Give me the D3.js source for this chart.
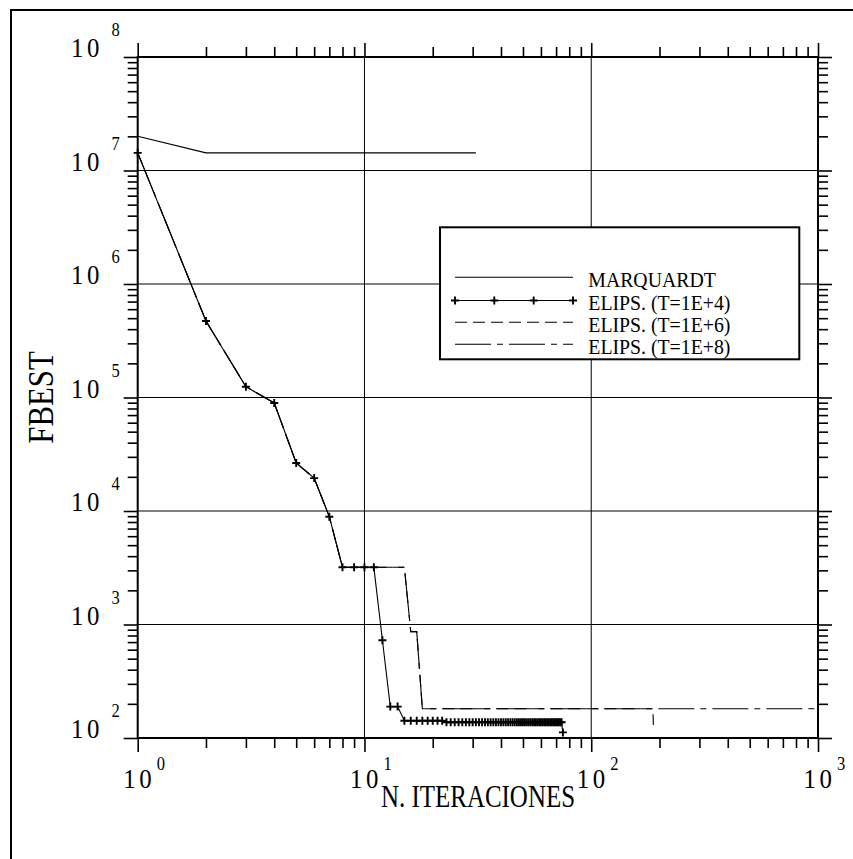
<!DOCTYPE html>
<html>
<head>
<meta charset="utf-8">
<script src="https://cdn.jsdelivr.net/npm/d3@7"></script>
<style>
  html, body { margin: 0; padding: 0; background: #fff; }
  svg { display: block; }
</style>
</head>
<body>
<script>
// Best objective value (FBEST) against iteration count for each method.
const marquardtIter  = [1, 2, 31];
const marquardtFbest = [2.0e7, 1.43e7, 1.43e7];

const elips4Iter = [
  1, 2, 3, 4, 5, 6, 7, 8, 9, 10, 11, 12, 13, 14, 15,
  16, 17, 18, 19, 20, 21, 22, 23, 24, 25, 26, 27, 28, 29, 30,
  31, 32, 33, 34, 35, 36, 37, 38, 39, 40, 41, 42, 43, 44, 45,
  46, 47, 48, 49, 50, 51, 52, 53, 54, 55, 56, 57, 58, 59, 60,
  61, 62, 63, 64, 65, 66, 67, 68, 69, 70, 71, 72, 73, 74, 75
];
const elips4Fbest = [
  1.43e7, 4.72e5, 1.245e5, 8.95e4, 2.65e4, 1.95e4, 8.9e3, 3190, 3190, 3190, 3190, 726, 189, 189, 142,
  142, 142, 142, 142, 142, 142, 142, 137.5, 137.5, 137.5, 137.5, 137.5, 137.5, 137.5, 137.5,
  137.5, 137.5, 137.5, 137.5, 137.5, 137.5, 137.5, 137.5, 137.5, 137.5, 137.5, 137.5, 137.5, 137.5, 137.5,
  137.5, 137.5, 137.5, 137.5, 137.5, 137.5, 137.5, 137.5, 137.5, 137.5, 137.5, 137.5, 137.5, 137.5, 137.5,
  137.5, 137.5, 137.5, 137.5, 137.5, 137.5, 137.5, 137.5, 137.5, 137.5, 137.5, 137.5, 137.5, 137.5, 112
];

const elips6Iter  = [1, 2, 3, 4, 5, 6, 7, 8, 11, 15, 16, 17, 18, 187, 188];
const elips6Fbest = [1.43e7, 4.72e5, 1.245e5, 8.95e4, 2.65e4, 1.95e4, 8.9e3, 3190, 3190, 3190, 865, 865, 181, 181, 130];

const elips8Iter  = [1, 2, 3, 4, 5, 6, 7, 8, 11, 15, 16, 17, 18, 1000];
const elips8Fbest = [1.43e7, 4.72e5, 1.245e5, 8.95e4, 2.65e4, 1.95e4, 8.9e3, 3190, 3190, 3190, 865, 865, 181, 181];

const xDecades = [1, 10, 100, 1000];
const xExponents = ["0", "1", "2", "3"];
const yDecades = [1e2, 1e3, 1e4, 1e5, 1e6, 1e7, 1e8];
const yExponents = ["2", "3", "4", "5", "6", "7", "8"];

const legendLabels = ["MARQUARDT", "ELIPS. (T=1E+4)", "ELIPS. (T=1E+6)", "ELIPS. (T=1E+8)"];
const xTitle = "N. ITERACIONES";
const yTitle = "FBEST";

// ---- layout ----
const W = 853, H = 859;
const L = 137.7, R = 818, T = 57, B = 738;
const FONT = "'Liberation Serif', 'Times New Roman', serif";

const svg = d3.select("body").append("svg").attr("width", W).attr("height", H);

// outer frame
svg.append("rect").attr("x", 11).attr("y", 10).attr("width", 900).attr("height", 900)
  .attr("fill", "none").attr("stroke", "#000").attr("stroke-width", 2);

const x = d3.scaleLog().domain([1, 1000]).range([L, R]);
const y = d3.scaleLog().domain([1e2, 1e8]).range([B, T]);

const isDecade = v => Math.abs(Math.log10(v) - Math.round(Math.log10(v))) < 1e-9;
const xMinor = x.ticks().filter(v => !isDecade(v));
const yMinor = y.ticks().filter(v => !isDecade(v));

// grid lines at inner decades
const grid = svg.append("g").attr("stroke", "#000").attr("stroke-width", 1);
xDecades.slice(1, -1).forEach(v => {
  grid.append("line").attr("x1", x(v)).attr("x2", x(v)).attr("y1", T).attr("y2", B);
});
yDecades.slice(1, -1).forEach(v => {
  grid.append("line").attr("y1", y(v)).attr("y2", y(v)).attr("x1", L).attr("x2", R);
});

// axes: minor ticks 10px, decade ticks 14px, on all four sides pointing outward
function addAxis(gen, tx, ty, values, size, width) {
  const g = svg.append("g").attr("transform", `translate(${tx},${ty})`)
    .call(gen.tickValues(values).tickSize(size).tickSizeOuter(0).tickFormat(""));
  g.select(".domain").remove();
  g.selectAll(".tick line").attr("stroke", "#000").attr("stroke-width", width);
  return g;
}
addAxis(d3.axisBottom(x), 0, B, xMinor, 10, 1.6);
addAxis(d3.axisTop(x), 0, T, xMinor, 10, 1.6);
addAxis(d3.axisLeft(y), L, 0, yMinor, 10, 1.6);
addAxis(d3.axisRight(y), R, 0, yMinor, 10, 1.6);
addAxis(d3.axisBottom(x), 0, B, xDecades, 14, 1.6);
addAxis(d3.axisTop(x), 0, T, xDecades, 14, 1.6);
addAxis(d3.axisLeft(y), L, 0, yDecades, 14, 1.6);
addAxis(d3.axisRight(y), R, 0, yDecades, 14, 1.6);

// plot frame
svg.append("rect").attr("x", L).attr("y", T).attr("width", R - L).attr("height", B - T)
  .attr("fill", "none").attr("stroke", "#000").attr("stroke-width", 2);

// tick labels: "10" with a raised exponent, in a slightly narrow serif
function powerLabel(xStart, yBase, exp, expGap, expRise) {
  const t = svg.append("text")
    .attr("transform", `translate(${xStart},${yBase}) scale(0.92,1)`)
    .attr("font-family", FONT).attr("font-size", 27).attr("fill", "#000");
  t.append("tspan").text("1");
  t.append("tspan").attr("dx", 4).text("0");
  t.append("tspan").attr("dx", expGap).attr("dy", -expRise).attr("font-size", 18).text(exp);
}
xDecades.forEach((v, i) => powerLabel(x(v) - 14.5, 788.3, xExponents[i], 5.5, 18));
yDecades.forEach((v, i) => powerLabel(71, y(v), yExponents[i], 13, 21));

// axis titles (narrow serif)
svg.append("text").attr("transform", `translate(478,807) scale(0.78,1)`)
  .attr("text-anchor", "middle").attr("font-family", FONT).attr("font-size", 32)
  .attr("fill", "#000").text(xTitle);
svg.append("text").attr("transform", `translate(53,397.5) rotate(-90) scale(0.88,1)`)
  .attr("text-anchor", "middle").attr("font-family", FONT).attr("font-size", 35)
  .attr("fill", "#000").text(yTitle);

// ---- series ----
const line = d3.line().x(d => x(d[0])).y(d => y(d[1]));
const zip = (a, b) => a.map((v, i) => [v, b[i]]);

const styles = [
  { dash: null },
  { dash: null },
  { dash: "12,6" },
  { dash: "36,6,6,6" }
];

const plot = svg.append("g");
const seriesData = [
  zip(marquardtIter, marquardtFbest),
  zip(elips4Iter, elips4Fbest),
  zip(elips6Iter, elips6Fbest),
  zip(elips8Iter, elips8Fbest)
];
[3, 2, 0, 1].forEach(i => {
  plot.append("path").datum(seriesData[i]).attr("d", line)
    .attr("fill", "none").attr("stroke", "#000").attr("stroke-width", 1.1)
    .attr("stroke-dasharray", styles[i].dash);
});

const plus = "M-4,0H4M0,-4V4";
plot.selectAll(".mk").data(seriesData[1]).join("path")
  .attr("class", "mk")
  .attr("transform", d => `translate(${x(d[0])},${y(d[1])})`)
  .attr("d", plus).attr("stroke", "#000").attr("stroke-width", 1.9).attr("fill", "none");

// ---- legend ----
const lg = svg.append("g");
lg.append("rect").attr("x", 440).attr("y", 227.3).attr("width", 359.3).attr("height", 132)
  .attr("fill", "#fff").attr("stroke", "#000").attr("stroke-width", 2);
const rowY = [277.3, 300.5, 322.3, 344.3];
legendLabels.forEach((lab, i) => {
  lg.append("line").attr("x1", 455).attr("x2", 573).attr("y1", rowY[i]).attr("y2", rowY[i])
    .attr("stroke", "#000").attr("stroke-width", 1.1).attr("stroke-dasharray", styles[i].dash);
  if (i === 1) {
    [455, 494.3, 533.7, 573].forEach(px => {
      lg.append("path").attr("transform", `translate(${px},${rowY[i]})`).attr("d", plus)
        .attr("stroke", "#000").attr("stroke-width", 1.9);
    });
  }
  lg.append("text").attr("transform", `translate(588.3,${rowY[i] + 9.4}) scale(0.9,1)`)
    .attr("font-family", FONT).attr("font-size", 22).attr("fill", "#000").text(lab);
});
</script>
</body>
</html>
